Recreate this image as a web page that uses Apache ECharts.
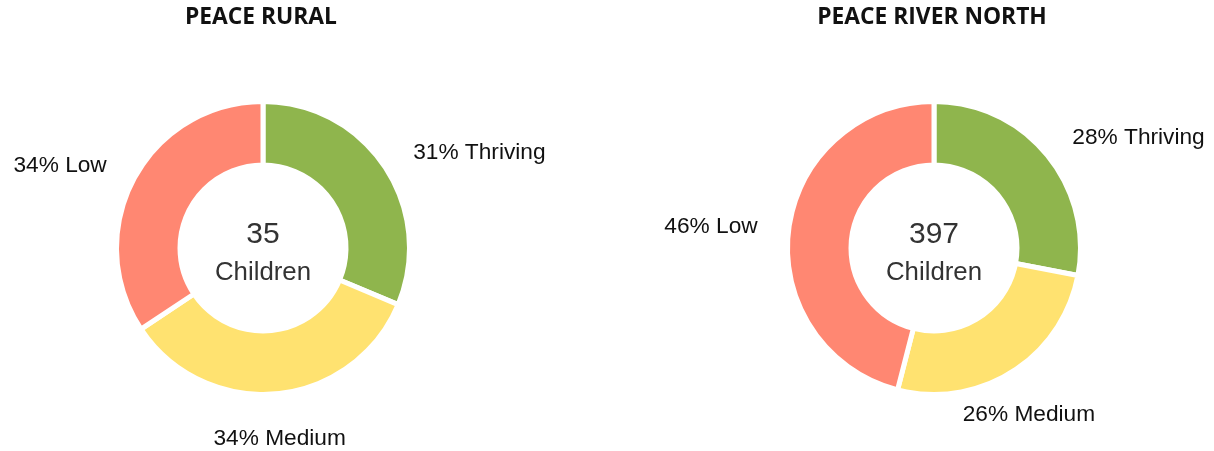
<!DOCTYPE html>
<html>
<head>
<meta charset="utf-8">
<title>Peace regions</title>
<script src="https://cdn.jsdelivr.net/npm/echarts@6/dist/echarts.min.js"></script>
<style>
  html, body { margin: 0; padding: 0; background: #fff; }
  #chart { width: 1214px; height: 451px; }
</style>
</head>
<body>
<div id="chart"></div>
<script>
// data
const regions = ['PEACE RURAL', 'PEACE RIVER NORTH'];
const totals = [35, 397];
const categories = ['Thriving', 'Medium', 'Low'];
const thriving = [31, 28];
const medium = [34, 26];
const low = [34, 46];

const colors = ['#8fb54d', '#ffe270', '#ff8772'];
const centers = [[263, 248], [934, 248]];
// small nudges so the outside labels sit where the original puts them
const labelNudge = [
  [[10.7, -6], [-69.9, 30.1], [-8.9, -6.2]],
  [[8.9, -7.1], [-62.8, 30.6], [-11.1, -0.8]]
];

const values = [thriving, medium, low];
const chart = echarts.init(document.getElementById('chart'));

const titles = [];
regions.forEach((name, i) => {
  titles.push({
    text: name,
    left: centers[i][0] - 2,
    top: 18,
    padding: 0,
    textAlign: 'center',
    textVerticalAlign: 'middle',
    textStyle: { fontFamily: 'Open Sans', fontWeight: 700, fontSize: 22.8, color: '#111' }
  });
  titles.push({
    text: String(totals[i]),
    left: centers[i][0],
    top: 235,
    padding: 0,
    textAlign: 'center',
    textVerticalAlign: 'middle',
    textStyle: { fontFamily: 'Liberation Sans', fontWeight: 'normal', fontSize: 30, color: '#333' }
  });
  titles.push({
    text: 'Children',
    left: centers[i][0],
    top: 273,
    padding: 0,
    textAlign: 'center',
    textVerticalAlign: 'middle',
    textStyle: { fontFamily: 'Liberation Sans', fontWeight: 'normal', fontSize: 25.8, color: '#333' }
  });
});

const series = regions.map((name, i) => ({
  name: name,
  type: 'pie',
  center: centers[i],
  radius: [83, 146.5],
  startAngle: 90,
  clockwise: true,
  avoidLabelOverlap: false,
  itemStyle: { borderColor: '#fff', borderWidth: 5 },
  label: {
    show: true,
    position: 'outside',
    fontFamily: 'Liberation Sans',
    fontSize: 22.7,
    color: '#111',
    bleedMargin: 0,
    distanceToLabelLine: 5,
    formatter: p => p.value + '% ' + p.name
  },
  labelLine: { show: false, length: 15, length2: 0 },
  labelLayout: p => ({
    dx: labelNudge[p.seriesIndex][p.dataIndex][0],
    dy: labelNudge[p.seriesIndex][p.dataIndex][1]
  }),
  emphasis: { disabled: true },
  data: categories.map((c, j) => ({
    name: c,
    value: values[j][i],
    itemStyle: { color: colors[j] }
  }))
}));

chart.setOption({
  animation: false,
  title: titles,
  series: series
});

window.addEventListener('resize', () => chart.resize());
</script>
</body>
</html>
